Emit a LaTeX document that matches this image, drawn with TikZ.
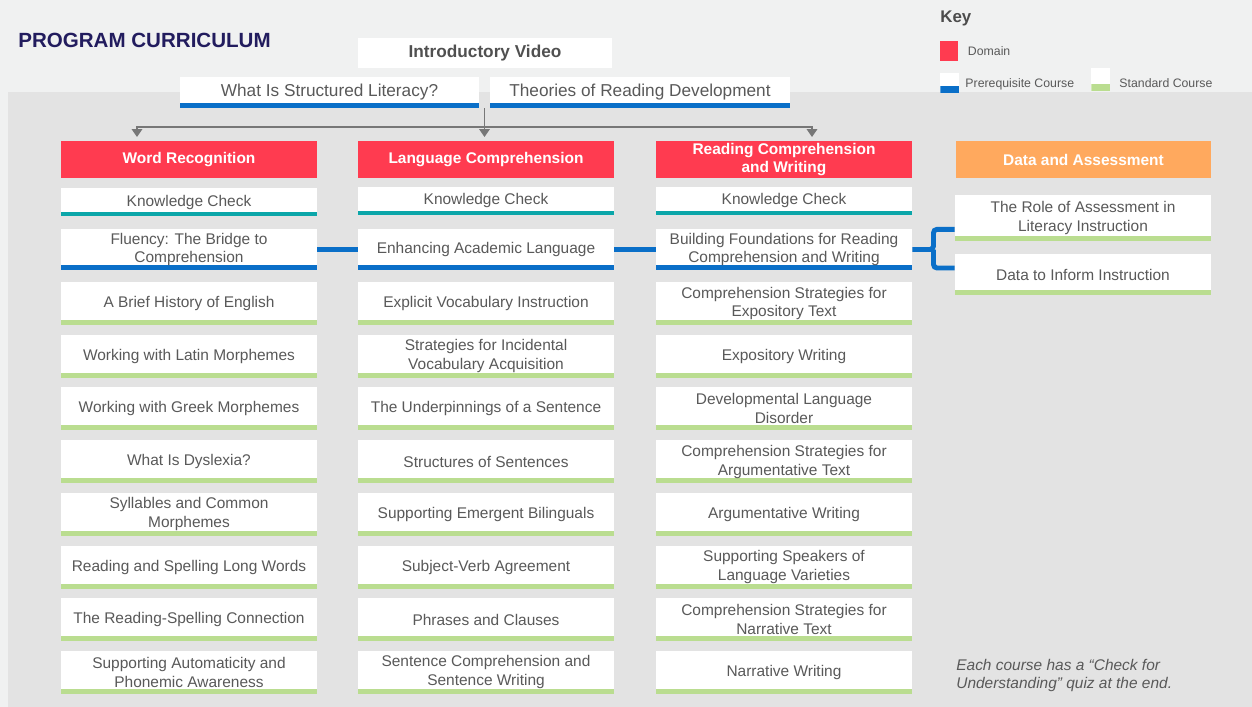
\documentclass[tikz,border=0pt]{standalone}
\usepackage{fontspec}
\setmainfont{Liberation Sans}
\usetikzlibrary{calc, arrows.meta, positioning}
\definecolor{cpage}{HTML}{F0F1F1}
\definecolor{cpanel}{HTML}{E3E3E3}
\definecolor{ctitle}{HTML}{221C5E}
\definecolor{ctext}{HTML}{595959}
\definecolor{cdomain}{HTML}{FF3B50}
\definecolor{cdata}{HTML}{FFA95E}
\definecolor{cprereq}{HTML}{0A6FC8}
\definecolor{cstd}{HTML}{BADD90}
\definecolor{ccheck}{HTML}{0BA6A9}
\definecolor{crail}{HTML}{777777}

\begin{document}
\begin{tikzpicture}[x=0.02cm, y=-0.02cm,
    bar height/.initial=0.1cm,
    area/.style={rectangle, fill=cdomain, minimum width=5.12cm, minimum height=0.74cm, inner sep=0pt, align=center, text=white, font=\fontsize{8.8}{9.8}\selectfont\bfseries},
    course/.style={rectangle, fill=white, minimum width=5.12cm, minimum height=0.86cm, inner sep=0pt, align=center, text=ctext, font=\fontsize{8.8}{10.8}\selectfont,
        path picture={\fill[#1] (path picture bounding box.south west) rectangle ([yshift=\pgfkeysvalueof{/tikz/bar height}]path picture bounding box.south east);}},
    std/.style={course=cstd},
    pre/.style={course=cprereq, minimum height=0.82cm},
    check/.style={course=ccheck, minimum height=0.56cm, bar height=0.08cm},
    keybox/.style={minimum width=0.37cm, minimum height=0.4cm, inner sep=0pt, bar height=0.14cm},
    keytxt/.style={inner sep=0pt, text=ctext, font=\fontsize{7}{8}\selectfont},
    link/.style={line width=2.8pt, draw=cprereq},
    rail/.style={line width=0.85pt, draw=crail},
    flow/.style={rail, -{Triangle[length=4.5pt, width=6pt]}}
]
\useasboundingbox (0,0) rectangle (1252,707);
\fill[cpage] (0,0) rectangle (1252,707);
\fill[cpanel] (8,92) rectangle (1252,707);

\node[anchor=west, inner sep=0pt, text=ctitle, font=\fontsize{11.7}{13}\selectfont\bfseries] (title) at (18,40) {PROGRAM CURRICULUM};

\node[anchor=west, inner sep=0pt, text=ctext!85!black, font=\fontsize{9.6}{11}\selectfont\bfseries] (key) at (940,18) {Key};
\node[keybox, fill=cdomain] (kdom) at (949,51) {};
\node[keytxt, right=1.8mm of kdom] {Domain};
\node[course=cprereq, keybox] (kpre) at (949.5,83) {};
\node[keytxt, right=1.2mm of kpre, yshift=-1pt] {Prerequisite Course};
\node[course=cstd, keybox, minimum height=0.46cm] (kstd) at (1100.5,79.5) {};
\node[keytxt, right=1.8mm of kstd, yshift=-2pt] {Standard Course};

\node[rectangle, fill=white, minimum width=5.08cm, minimum height=0.6cm, inner sep=0pt, text=ctext!90!black, font=\fontsize{9.8}{11}\selectfont\bfseries] (video) at (485,53) {Introductory Video};
\node[course=cprereq, minimum width=5.98cm, minimum height=0.62cm, font=\fontsize{9.8}{11}\selectfont] (lit) at (329.5,92.5) {What Is Structured Literacy?};
\node[course=cprereq, minimum width=6cm, minimum height=0.62cm, font=\fontsize{9.8}{11}\selectfont] (theo) at (640,92.5) {Theories of Reading Development};

\node[area] (wr) at (189,159.5) {Word Recognition};
\node[area] (lc) at (486,159.5) {Language Comprehension};
\node[area] (rc) at (784,159.5) {Reading Comprehension\\and Writing};
\node[area, fill=cdata] (da) at (1083.5,159.5) {Data and Assessment};

\node[check] (wr1) at (189,202) {Knowledge Check};
\node[pre] (wr2) at (189,249.5) {Fluency: The Bridge to\\Comprehension};
\node[std] (wr3) at (189,303.5) {A Brief History of English};
\node[std] (wr4) at (189,356.2) {Working with Latin Morphemes};
\node[std] (wr5) at (189,408.9) {Working with Greek Morphemes};
\node[std] (wr6) at (189,461.6) {What Is Dyslexia?};
\node[std] (wr7) at (189,514.3) {Syllables and Common\\Morphemes};
\node[std] (wr8) at (189,567) {Reading and Spelling Long Words};
\node[std] (wr9) at (189,619.7) {The Reading-Spelling Connection};
\node[std] (wr10) at (189,672.4) {Supporting Automaticity and\\Phonemic Awareness};

\node[check] (lc1) at (486,200.5) {Knowledge Check};
\node[pre] (lc2) at (486,249.5) {Enhancing Academic Language};
\node[std] (lc3) at (486,303.5) {Explicit Vocabulary Instruction};
\node[std] (lc4) at (486,356.2) {Strategies for Incidental\\Vocabulary Acquisition};
\node[std] (lc5) at (486,408.9) {The Underpinnings of a Sentence};
\node[std] (lc6) at (486,461.6) {Structures of Sentences};
\node[std] (lc7) at (486,514.3) {Supporting Emergent Bilinguals};
\node[std] (lc8) at (486,567) {Subject-Verb Agreement};
\node[std] (lc9) at (486,619.7) {Phrases and Clauses};
\node[std] (lc10) at (486,672.4) {Sentence Comprehension and\\Sentence Writing};

\node[check] (rc1) at (784,200.5) {Knowledge Check};
\node[pre] (rc2) at (784,249.5) {Building Foundations for Reading\\Comprehension and Writing};
\node[std] (rc3) at (784,303.5) {Comprehension Strategies for\\Expository Text};
\node[std] (rc4) at (784,356.2) {Expository Writing};
\node[std] (rc5) at (784,408.9) {Developmental Language\\Disorder};
\node[std] (rc6) at (784,461.6) {Comprehension Strategies for\\Argumentative Text};
\node[std] (rc7) at (784,514.3) {Argumentative Writing};
\node[std] (rc8) at (784,567) {Supporting Speakers of\\Language Varieties};
\node[std] (rc9) at (784,619.7) {Comprehension Strategies for\\Narrative Text};
\node[std] (rc10) at (784,672.4) {Narrative Writing};

\node[std, minimum height=0.92cm] (da1) at (1083,218) {The Role of Assessment in\\Literacy Instruction};
\node[std, minimum height=0.82cm] (da2) at (1083,274.5) {Data to Inform Instruction};

\node[anchor=west, inner sep=0pt, align=left, text=ctext, font=\fontsize{8.8}{10.8}\selectfont\itshape] (note) at (956,675.5) {Each course has a “Check for\\Understanding” quiz at the end.};

\coordinate (split) at ($(lit.south east)!0.5!(theo.south west)$);
\coordinate (rail) at (484.5,127);
\coordinate (wrin) at (137,137);
\coordinate (rcin) at (812,137);
\draw[flow] (split) -- (split |- wrin);
\draw[flow] (rail) -| (wrin);
\draw[flow] (rail) -| (rcin);

\coordinate (brk) at ($(rc2.east)!0.5!(da2.west |- rc2.east)$);
\draw[link] (wr2) -- (lc2);
\draw[link] (lc2) -- (rc2);
\draw[link, rounded corners=2pt] (rc2.east) -- (brk) |- ([yshift=0.24cm]da1.south west);
\draw[link, rounded corners=2pt] (brk) |- ([yshift=0.13cm]da2.west);
\end{tikzpicture}
\end{document}
